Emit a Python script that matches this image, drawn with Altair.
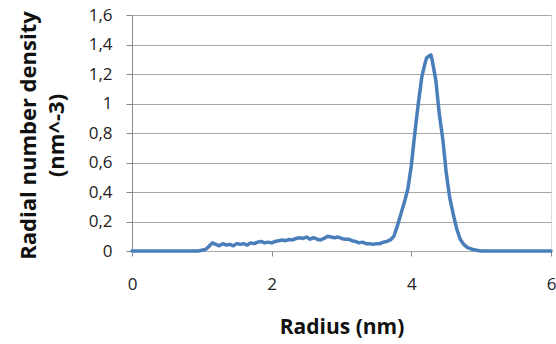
import altair as alt
import pandas as pd

radius = [0.0, 0.5, 0.9, 0.95, 1.0, 1.05, 1.1, 1.15, 1.2, 1.25, 1.3, 1.35, 1.4, 1.45, 1.5,
          1.55, 1.6, 1.65, 1.7, 1.75, 1.8, 1.85, 1.9, 1.95, 2.0, 2.05, 2.1, 2.15, 2.2,
          2.25, 2.3, 2.35, 2.4, 2.45, 2.5, 2.55, 2.6, 2.65, 2.7, 2.75, 2.8, 2.85, 2.9,
          2.95, 3.0, 3.05, 3.1, 3.15, 3.2, 3.25, 3.3, 3.35, 3.4, 3.45, 3.5, 3.55, 3.6,
          3.65, 3.7, 3.75, 3.8, 3.85, 3.9, 3.95, 4.0, 4.05, 4.1, 4.15, 4.2, 4.22, 4.25,
          4.28, 4.3, 4.35, 4.4, 4.45, 4.5, 4.55, 4.6, 4.65, 4.7, 4.75, 4.8, 4.85, 4.9,
          4.95, 5.0, 5.5, 6.0]
density = [0.0, 0.0, 0.0, 0.0, 0.005, 0.01, 0.03, 0.055, 0.045, 0.035, 0.05, 0.04, 0.045, 0.035, 0.05,
           0.045, 0.05, 0.04, 0.055, 0.05, 0.06, 0.065, 0.055, 0.06, 0.055, 0.065, 0.07, 0.075, 0.07,
           0.078, 0.075, 0.085, 0.09, 0.085, 0.095, 0.08, 0.09, 0.08, 0.075, 0.085, 0.1, 0.095, 0.09,
           0.095, 0.085, 0.08, 0.08, 0.07, 0.065, 0.055, 0.06, 0.05, 0.05, 0.045, 0.05, 0.05, 0.06,
           0.065, 0.075, 0.1, 0.17, 0.25, 0.33, 0.42, 0.58, 0.8, 1.0, 1.18, 1.28, 1.31, 1.32,
           1.33, 1.29, 1.16, 0.93, 0.76, 0.53, 0.36, 0.25, 0.15, 0.08, 0.045, 0.025, 0.015, 0.008,
           0.004, 0.0, 0.0, 0.0]

df = pd.DataFrame({"r": radius, "d": density})

FONT = "Open Sans"

chart = alt.Chart(df).mark_line(
    color="#4a7ebb", strokeWidth=3.5, strokeCap="round", strokeJoin="round"
).encode(
    x=alt.X("r:Q", scale=alt.Scale(domain=[0, 6], nice=False),
            axis=alt.Axis(values=[0, 2, 4, 6], grid=False, domain=False,
                          ticks=True, tickSize=5, tickColor="#8a8a8a",
                          labelFlush=False,
                          labelPadding=20, labelFontSize=17, labelFont=FONT,
                          labelColor="#222", title="Radius (nm)",
                          titleFont=FONT, titleFontSize=21, titleFontWeight="bold",
                          titleColor="#111", titlePadding=24)),
    y=alt.Y("d:Q", scale=alt.Scale(domain=[0, 1.6], nice=False),
            axis=alt.Axis(values=[0, 0.2, 0.4, 0.6, 0.8, 1.0, 1.2, 1.4, 1.6],
                          grid=True, gridColor="#a6a6a6", gridWidth=1,
                          domain=True, domainColor="#8a8a8a",
                          ticks=True, tickSize=6, tickColor="#8a8a8a",
                          labelFlush=False,
                          labelPadding=14, labelFontSize=17, labelFont=FONT,
                          labelColor="#222",
                          labelExpr="replace(toString(round(datum.value*10)/10), '.', ',')",
                          title=["Radial number density", "(nm^-3)"],
                          titleFont=FONT, titleFontSize=22, titleFontWeight="bold",
                          titleColor="#111", titleAngle=-90, titleAlign="center",
                          titleBaseline="middle", titleLineHeight=28,
                          titleX=-104, titleY=120)),
).properties(
    width=419, height=236,
    padding={"left": 132, "top": 15, "right": 5, "bottom": 93},
    autosize=alt.AutoSizeParams(type="none"),
).configure_view(stroke=None).configure(background="white")

chart.save("out.html", embed_options={"renderer": "svg", "actions": False})
